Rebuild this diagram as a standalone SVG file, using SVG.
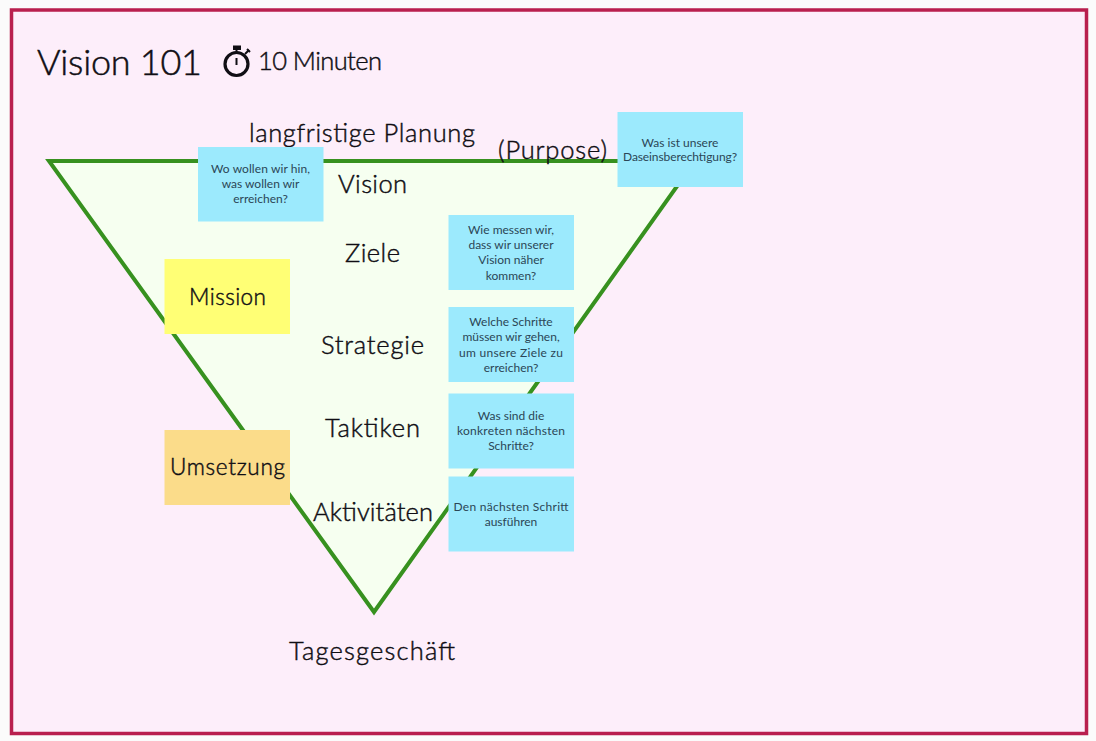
<svg xmlns="http://www.w3.org/2000/svg" width="1096" height="741" viewBox="0 0 1096 741">
<style>
text{font-family:"Lato","Liberation Sans",sans-serif;fill:#100e14;text-anchor:middle}
.l{font-size:25.500px;font-weight:300;stroke:#100e14;stroke-width:.45px}
.m{font-size:22.500px;font-weight:300;stroke:#100e14;stroke-width:.45px}
.s{font-size:12px;fill:#2b4656}
.note{fill:#9ceafd}
</style>
<rect width="1096" height="741" fill="#fbfbfb"/>
<rect id="frame" x="11.500" y="10" width="1075" height="723.500" fill="#fdeefa" stroke="#b91f4e" stroke-width="3.500"/>
<g id="connectors">
<path id="triangle" d="M49 161H695L374 612Z" fill="#f6fff0" stroke="#37911f" stroke-width="4" stroke-linejoin="miter"/>
</g>
<g id="title"><text x="119.500" y="75" style="font-size:36px;font-weight:300;stroke:#100e14;stroke-width:.5px" textLength="165">Vision 101</text></g>
<g id="timer" fill="none" stroke="#100e14">
<circle cx="236.500" cy="64" r="11.500" stroke-width="3.200"/>
<rect x="233" y="45.500" width="8" height="4.500" fill="#100e14" stroke="none"/>
<path d="M236.500 50V53M245 54l4-4M236.500 58v7" stroke-width="2"/>
<path d="M247 49l3 3" stroke-width="2"/>
</g>
<g id="duration"><text class="l" x="320" y="70" textLength="124">10 Minuten</text></g>
<g id="label-planung"><text class="l" x="362" y="142" textLength="226">langfristige Planung</text></g>
<g id="label-purpose"><text class="l" x="552.500" y="159" textLength="109">(Purpose)</text></g>
<g id="label-vision"><text class="l" x="372.500" y="193" textLength="69">Vision</text></g>
<g id="label-ziele"><text class="l" x="372.500" y="262" textLength="55">Ziele</text></g>
<g id="label-strategie"><text class="l" x="372.500" y="354" textLength="103">Strategie</text></g>
<g id="label-taktiken"><text class="l" x="372.500" y="437" textLength="95">Taktiken</text></g>
<g id="label-aktivitaeten"><text class="l" x="373" y="521" textLength="120">Aktivitäten</text></g>
<g id="label-tagesgeschaeft"><text class="l" x="372" y="660" textLength="166">Tagesgeschäft</text></g>
<g id="note-wo"><rect class="note" x="198" y="147" width="125.500" height="74.500"/>
<text class="s" x="260.500" y="173" textLength="99">Wo wollen wir hin,</text><text class="s" x="260.500" y="188">was wollen wir</text><text class="s" x="260.500" y="203">erreichen?</text></g>
<g id="note-was-ist"><rect class="note" x="617.500" y="112" width="125.500" height="75"/>
<text class="s" x="680" y="147">Was ist unsere</text><text class="s" x="680" y="161" textLength="114">Daseinsberechtigung?</text></g>
<g id="note-wie"><rect class="note" x="448.500" y="215" width="125.500" height="75"/>
<text class="s" x="511" y="234">Wie messen wir,</text><text class="s" x="511" y="249">dass wir unserer</text><text class="s" x="511" y="264">Vision näher</text><text class="s" x="511" y="280">kommen?</text></g>
<g id="note-welche"><rect class="note" x="448.500" y="307" width="125.500" height="75"/>
<text class="s" x="511" y="326">Welche Schritte</text><text class="s" x="511" y="341">müssen wir gehen,</text><text class="s" x="511" y="357" textLength="104">um unsere Ziele zu</text><text class="s" x="511" y="372">erreichen?</text></g>
<g id="note-konkret"><rect class="note" x="448.500" y="393.500" width="125.500" height="75"/>
<text class="s" x="511" y="420">Was sind die</text><text class="s" x="511" y="435" textLength="108">konkreten nächsten</text><text class="s" x="511" y="450">Schritte?</text></g>
<g id="note-den"><rect class="note" x="448.500" y="476.500" width="125.500" height="75"/>
<text class="s" x="511" y="511" textLength="115">Den nächsten Schritt</text><text class="s" x="511" y="526">ausführen</text></g>
<g id="mission"><rect x="164.500" y="259" width="125.500" height="75" fill="#ffff75"/><text class="m" x="227.500" y="305" textLength="77">Mission</text></g>
<g id="umsetzung"><rect x="164.500" y="430" width="125.500" height="75" fill="#fbdc8a"/><text class="m" x="227.500" y="475" textLength="115">Umsetzung</text></g>
</svg>
